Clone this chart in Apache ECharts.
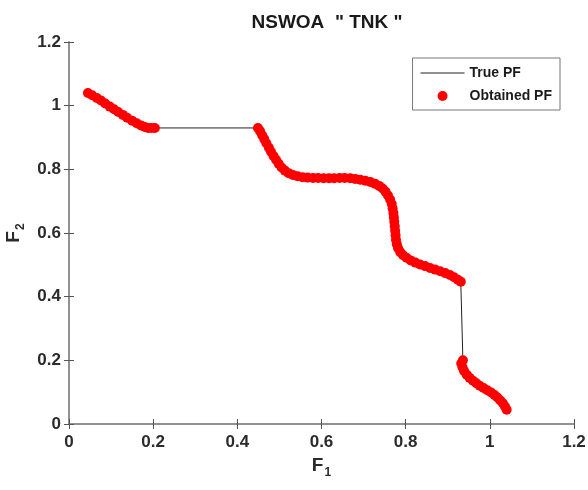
<!DOCTYPE html>
<html>
<head>
<meta charset="utf-8">
<script src="https://cdn.jsdelivr.net/npm/echarts@6/dist/echarts.min.js"></script>
<style>
  html, body { margin: 0; padding: 0; background: #fff; }
  #chart { width: 588px; height: 490px; }
</style>
</head>
<body>
<div id="chart"></div>
<script>
// 读图估计的数据 (F1, F2)
var seg1 = [
  [0.045,1.040],[0.055,1.033],[0.066,1.024],[0.076,1.016],[0.086,1.007],[0.097,0.997],
  [0.107,0.989],[0.117,0.980],[0.128,0.971],[0.138,0.962],[0.150,0.953],[0.161,0.945],
  [0.171,0.938],[0.180,0.933],[0.188,0.930],[0.196,0.930],[0.204,0.930]
];
var seg2 = [
  [0.449,0.930],[0.454,0.920],[0.459,0.907],[0.464,0.895],[0.469,0.882],[0.475,0.868],
  [0.480,0.855],[0.486,0.842],[0.492,0.830],[0.498,0.818],[0.505,0.806],[0.513,0.796],
  [0.522,0.788],[0.532,0.782],[0.543,0.778],[0.555,0.775],[0.567,0.774],[0.580,0.773],
  [0.592,0.773],[0.605,0.772],[0.618,0.772],[0.630,0.772],[0.643,0.773],[0.655,0.773],
  [0.668,0.772],[0.680,0.770],[0.692,0.767],[0.704,0.764],[0.716,0.760],[0.727,0.755],
  [0.737,0.748],[0.745,0.740],[0.752,0.730],[0.758,0.718],[0.763,0.705],[0.767,0.691],
  [0.769,0.677],[0.771,0.663],[0.772,0.649],[0.773,0.635],[0.774,0.621],[0.775,0.607],
  [0.776,0.593],[0.777,0.579],[0.779,0.565],[0.782,0.552],[0.787,0.540],[0.794,0.530],
  [0.802,0.522],[0.812,0.514],[0.823,0.507],[0.834,0.501],[0.846,0.496],[0.858,0.490],
  [0.870,0.485],[0.882,0.480],[0.894,0.474],[0.905,0.468],[0.915,0.461],[0.924,0.453],
  [0.931,0.447]
];
var seg3 = [
  [0.936,0.200],[0.932,0.190],[0.935,0.178],[0.939,0.166],[0.945,0.155],[0.952,0.145],
  [0.960,0.136],[0.968,0.128],[0.976,0.120],[0.985,0.113],[0.994,0.106],[1.003,0.099],
  [1.011,0.091],[1.018,0.083],[1.025,0.074],[1.031,0.065],[1.036,0.055],[1.040,0.045]
];
var truePF = seg1.concat(seg2, seg3);
var obtainedPF = seg1.concat(seg2, seg3);
var tickLabels = ['0', '0.2', '0.4', '0.6', '0.8', '1', '1.2'];

var fontFam = "'Liberation Sans', Arial, sans-serif";
var axisGray = '#8a8a8a';

var dom = document.getElementById('chart');
var myChart = echarts.init(dom);

function tickFmt(v){
    var i = Math.round(v / 0.2);
    return tickLabels[i] !== undefined ? tickLabels[i] : '';
}

function baseAxis(extra){
    var ax = {
        type: 'value',
        min: 0,
        max: 1.2,
        interval: 0.2,
        splitLine: { show: false },
        axisLine: { show: true, lineStyle: { color: axisGray, width: 1.5 } },
        axisTick: { show: true, inside: true, length: 5, lineStyle: { color: '#555', width: 1 } },
        axisLabel: {
            show: true,
            fontFamily: fontFam,
            fontWeight: 'bold',
            fontSize: 17,
            color: '#2b2b2b',
            formatter: tickFmt
        }
    };
    for (var k in extra) ax[k] = extra[k];
    return ax;
}

var subRich = {
    s: { fontFamily: fontFam, fontWeight: 'bold', fontSize: 12, color: '#2b2b2b', verticalAlign: 'bottom', padding: [14, 0, 0, 1] }
};

myChart.setOption({
    animation: false,
    grid: {
        left: 69,
        right: 14,
        top: 42,
        bottom: 66,
        containLabel: false,
        outerBoundsMode: 'none'
    },
    title: {
        text: 'NSWOA  " TNK "',
        left: 322,
        textAlign: 'center',
        top: 8,
        textStyle: {
            fontFamily: fontFam,
            fontWeight: 'bold',
            fontSize: 19,
            color: '#1a1a1a'
        }
    },
    legend: {
        orient: 'vertical',
        right: 28,
        top: 58,
        padding: [8, 8, 7, 8],
        itemGap: 9,
        itemWidth: 44,
        itemHeight: 10,
        borderColor: '#777',
        borderWidth: 1,
        backgroundColor: '#fff',
        textStyle: {
            fontFamily: fontFam,
            fontWeight: 'bold',
            fontSize: 14,
            color: '#1a1a1a'
        },
        data: [
            { name: 'True PF', icon: 'path://M0,0 L44,0 L44,1.2 L0,1.2 Z' },
            { name: 'Obtained PF', icon: 'circle' }
        ]
    },
    xAxis: [
        baseAxis({
            position: 'bottom',
            name: 'F{s|1}',
            nameLocation: 'middle',
            nameGap: 28,
            axisLabel: {
                fontFamily: fontFam, fontWeight: 'bold', fontSize: 17,
                color: '#2b2b2b', margin: 10, formatter: tickFmt
            },
            nameTextStyle: {
                fontFamily: fontFam, fontWeight: 'bold', fontSize: 19, color: '#2b2b2b',
                rich: subRich
            }
        }),
        baseAxis({ position: 'top', axisLabel: { show: false } })
    ],
    yAxis: [
        baseAxis({
            position: 'left',
            name: 'F{s|2}',
            nameLocation: 'middle',
            nameGap: 38,
            nameRotate: 90,
            axisLabel: {
                fontFamily: fontFam, fontWeight: 'bold', fontSize: 17,
                color: '#2b2b2b', margin: 8, formatter: tickFmt
            },
            nameTextStyle: {
                fontFamily: fontFam, fontWeight: 'bold', fontSize: 19, color: '#2b2b2b',
                rich: subRich
            }
        }),
        baseAxis({ position: 'right', axisLabel: { show: false } })
    ],
    series: [
        {
            name: 'True PF',
            type: 'line',
            data: truePF,
            showSymbol: false,
            symbol: 'none',
            lineStyle: { color: '#222', width: 1 },
            itemStyle: { color: '#222' },
            z: 1
        },
        {
            name: 'Obtained PF',
            type: 'scatter',
            data: obtainedPF,
            symbol: 'circle',
            symbolSize: 10,
            itemStyle: { color: '#ff0000', opacity: 1 },
            z: 2
        }
    ]
});
window.addEventListener('resize', function(){
    myChart.resize();
});
</script>
</body>
</html>
